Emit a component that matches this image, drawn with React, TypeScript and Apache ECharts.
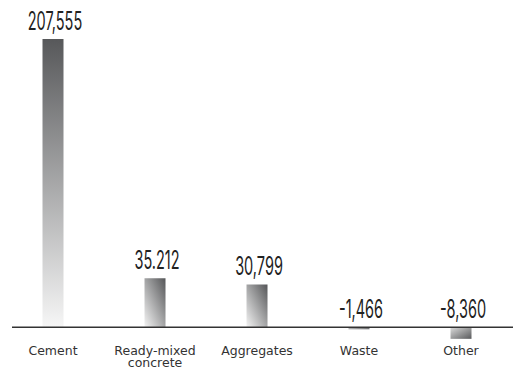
import React, { useEffect, useRef } from "react";
import * as echarts from "echarts";

const categories = ["Cement", "Ready-mixed\nconcrete", "Aggregates", "Waste", "Other"];
const values = [207555, 35212, 30799, -1466, -8360];
const valueLabels = ["207,555", "35.212", "30,799", "-1,466", "-8,360"];

const Y_MIN = -20000;
const Y_MAX = 207555;

const tallFill = new echarts.graphic.LinearGradient(0, 0, 0, 1, [
  { offset: 0, color: "#57585a" },
  { offset: 1, color: "#f6f6f6" },
]);
const positiveFill = new echarts.graphic.LinearGradient(1, 0, 0, 1, [
  { offset: 0, color: "#555658" },
  { offset: 1, color: "#f4f4f4" },
]);
const negativeFill = new echarts.graphic.LinearGradient(0, 0, 1, 1, [
  { offset: 0, color: "#dcdcdc" },
  { offset: 1, color: "#58595b" },
]);

function fillFor(v: number) {
  if (v < 0) return negativeFill;
  return v > 100000 ? tallFill : positiveFill;
}

export default function App() {
  const ref = useRef<HTMLDivElement>(null);
  useEffect(() => {
    const chart = echarts.init(ref.current!, undefined, { renderer: "svg" });
    chart.setOption({
      animation: false,
      grid: { left: 2, right: 1, top: 39, bottom: 12, outerBoundsMode: "none" },
      xAxis: {
        type: "category",
        data: categories,
        axisLine: { show: false },
        axisTick: { show: false },
        axisLabel: {
          interval: 0,
          margin: 17,
          fontFamily: "DejaVu Sans",
          fontSize: 12.5,
          lineHeight: 12,
          color: "#333",
        },
      },
      yAxis: {
        type: "value",
        min: Y_MIN,
        max: Y_MAX,
        show: false,
        splitLine: { show: false },
      },
      series: [
        {
          type: "bar",
          barWidth: 21,
          data: values.map((v) => ({ value: v, itemStyle: { color: fillFor(v) } })),
          label: { show: false },
        },
      ],
    });

    const zeroY = chart.convertToPixel({ yAxisIndex: 0 }, 0) as number;
    const bottomY = chart.convertToPixel({ yAxisIndex: 0 }, Y_MIN) as number;

    // Condensed value labels above each bar (above the baseline for negatives)
    const labels = values.map((v, i) => {
      const x = chart.convertToPixel({ xAxisIndex: 0 }, i) as number;
      const top = chart.convertToPixel({ yAxisIndex: 0 }, Math.max(v, 0)) as number;
      return {
        type: "text",
        x: x + 2,
        y: top - 6,
        scaleX: 0.58,
        z: 20,
        style: {
          text: valueLabels[i],
          fontFamily: "Inter",
          fontWeight: 400,
          fontSize: 25,
          fill: "#222",
          textAlign: "center",
          textVerticalAlign: "bottom",
        },
      };
    });
    chart.setOption({
      // lift the category labels up to the zero line
      xAxis: { offset: zeroY - bottomY },
      graphic: [
        {
          type: "line",
          shape: { x1: 12, y1: zeroY, x2: 513, y2: zeroY },
          style: { stroke: "#333", lineWidth: 1.5 },
          z: 10,
        },
        ...labels,
      ],
    });
    return () => chart.dispose();
  }, []);
  return <div ref={ref} style={{ width: 513, height: 367, position: "absolute", left: 0, top: 0 }} />;
}
